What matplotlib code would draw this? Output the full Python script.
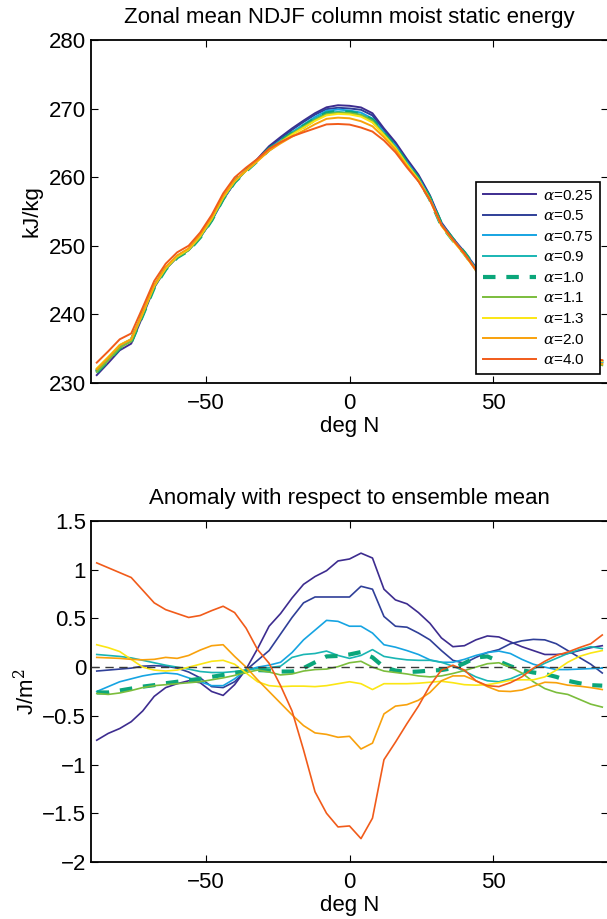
import numpy as np
import matplotlib
matplotlib.use('Agg')
import matplotlib.pyplot as plt
from matplotlib.ticker import FuncFormatter

# latitude grid (deg N)
lat = [-88, -84, -80, -76, -72, -68, -64, -60, -56, -52, -48, -44, -40, -36, -32,
       -28, -24, -20, -16, -12, -8, -4, 0, 4, 8, 12, 16, 20, 24, 28,
       32, 36, 40, 44, 48, 52, 56, 60, 64, 68, 72, 76, 80, 84, 88]

# ensemble mean column MSE (kJ/kg)
mse_mean = [231.9, 233.6, 235.4, 236.3, 240.2, 244.2, 246.8, 248.5, 249.5, 251.4, 253.9, 257.0, 259.4, 261.0, 262.5,
            264.1, 265.3, 266.4, 267.4, 268.4, 269.2, 269.4, 269.3, 269.0, 268.2, 266.3, 264.4, 262.0, 259.8, 256.9,
            253.1, 250.9, 248.9, 246.6, 244.5, 242.8, 241.0, 239.5, 238.0, 236.8, 235.7, 234.8, 234.0, 233.4, 233.0]

# anomaly with respect to ensemble mean, one list per alpha
anom_025 = [-0.75, -0.68, -0.63, -0.56, -0.45, -0.30, -0.21, -0.17, -0.14, -0.16, -0.25, -0.29, -0.18, -0.02, 0.19,
            0.42, 0.55, 0.71, 0.85, 0.93, 0.99, 1.09, 1.11, 1.17, 1.12, 0.80, 0.69, 0.65, 0.56, 0.45,
            0.30, 0.21, 0.22, 0.28, 0.32, 0.31, 0.26, 0.21, 0.17, 0.13, 0.13, 0.14, 0.17, 0.20, 0.22]
anom_05 = [-0.04, -0.03, -0.02, -0.01, 0.01, 0.015, 0.01, -0.01, -0.05, -0.11, -0.20, -0.21, -0.15, -0.03, 0.07,
           0.17, 0.34, 0.51, 0.66, 0.72, 0.72, 0.72, 0.72, 0.83, 0.80, 0.52, 0.42, 0.41, 0.35, 0.28,
           0.17, 0.07, 0.04, 0.10, 0.15, 0.18, 0.24, 0.27, 0.285, 0.28, 0.24, 0.17, 0.10, 0.03, -0.06]
anom_075 = [-0.25, -0.20, -0.15, -0.12, -0.09, -0.07, -0.06, -0.07, -0.11, -0.15, -0.19, -0.19, -0.12, -0.03, 0.00,
            0.02, 0.05, 0.15, 0.28, 0.38, 0.48, 0.47, 0.42, 0.42, 0.35, 0.23, 0.205, 0.17, 0.13, 0.075,
            0.05, 0.05, 0.08, 0.12, 0.15, 0.165, 0.14, 0.08, 0.03, 0.00, -0.025, -0.025, -0.02, -0.015, -0.01]
anom_09 = [0.13, 0.12, 0.11, 0.095, 0.07, 0.045, 0.02, 0.00, -0.02, -0.045, -0.055, -0.055, -0.045, -0.03, -0.015,
           -0.005, 0.01, 0.10, 0.13, 0.14, 0.165, 0.12, 0.09, 0.12, 0.18, 0.11, 0.09, 0.075, 0.07, 0.07,
           0.05, 0.01, -0.04, -0.10, -0.14, -0.15, -0.12, -0.07, -0.02, 0.04, 0.09, 0.14, 0.18, 0.21, 0.19]
anom_10 = [-0.26, -0.26, -0.24, -0.22, -0.20, -0.185, -0.165, -0.15, -0.135, -0.12, -0.10, -0.08, -0.06, -0.045, -0.03,
           -0.035, -0.045, -0.045, -0.01, 0.05, 0.11, 0.115, 0.13, 0.155, 0.10, 0.00, -0.035, -0.05, -0.045, -0.035,
           -0.03, -0.01, 0.04, 0.10, 0.11, 0.06, 0.01, -0.03, -0.055, -0.07, -0.10, -0.14, -0.165, -0.185, -0.19]
anom_11 = [-0.27, -0.28, -0.265, -0.24, -0.21, -0.19, -0.18, -0.17, -0.16, -0.15, -0.13, -0.11, -0.085, -0.055, -0.03,
           -0.05, -0.08, -0.07, -0.04, -0.025, -0.02, 0.005, 0.045, 0.06, 0.00, -0.04, -0.055, -0.07, -0.09, -0.10,
           -0.09, -0.065, -0.035, 0.00, 0.035, 0.045, 0.00, -0.06, -0.15, -0.22, -0.26, -0.28, -0.33, -0.38, -0.41]
anom_13 = [0.23, 0.20, 0.16, 0.08, 0.00, -0.03, -0.04, -0.03, 0.00, 0.03, 0.06, 0.07, 0.03, -0.06, -0.15,
           -0.19, -0.20, -0.195, -0.195, -0.20, -0.19, -0.17, -0.15, -0.17, -0.23, -0.17, -0.17, -0.17, -0.165, -0.155,
           -0.145, -0.16, -0.18, -0.185, -0.18, -0.16, -0.135, -0.13, -0.13, -0.10, -0.03, 0.05, 0.11, 0.145, 0.17]
anom_20 = [0.10, 0.095, 0.09, 0.08, 0.075, 0.08, 0.10, 0.09, 0.12, 0.175, 0.22, 0.23, 0.11, 0.00, -0.13,
           -0.25, -0.37, -0.49, -0.60, -0.675, -0.69, -0.72, -0.71, -0.84, -0.78, -0.48, -0.40, -0.385, -0.34, -0.26,
           -0.14, -0.09, -0.09, -0.14, -0.20, -0.245, -0.25, -0.235, -0.195, -0.155, -0.16, -0.185, -0.195, -0.21, -0.23]
anom_40 = [1.07, 1.02, 0.97, 0.92, 0.79, 0.66, 0.59, 0.55, 0.51, 0.53, 0.58, 0.625, 0.56, 0.40, 0.18,
           0.04, -0.19, -0.45, -0.85, -1.28, -1.50, -1.64, -1.63, -1.76, -1.55, -0.95, -0.77, -0.58, -0.40, -0.19,
           -0.03, 0.02, -0.03, -0.14, -0.19, -0.20, -0.16, -0.10, -0.01, 0.06, 0.12, 0.155, 0.20, 0.24, 0.33]

labels = [r'$\alpha$=0.25', r'$\alpha$=0.5', r'$\alpha$=0.75', r'$\alpha$=0.9', r'$\alpha$=1.0',
          r'$\alpha$=1.1', r'$\alpha$=1.3', r'$\alpha$=2.0', r'$\alpha$=4.0']
anoms = [anom_025, anom_05, anom_075, anom_09, anom_10, anom_11, anom_13, anom_20, anom_40]
colors = ['#3d2c8f', '#2f3f98', '#16a4e2', '#19b5b3', '#0ba67a', '#7bbd3c', '#fbe614', '#f8a10c', '#f15b1a']

plt.rcParams['font.family'] = ['Liberation Sans', 'DejaVu Sans']
plt.rcParams['mathtext.fontset'] = 'dejavuserif'
plt.rcParams['axes.linewidth'] = 1.3
plt.rcParams['xtick.direction'] = 'in'
plt.rcParams['ytick.direction'] = 'in'
plt.rcParams['xtick.top'] = True
plt.rcParams['ytick.right'] = True


def fmt(v, pos):
    return ('%g' % v).replace('-', '\u2212')


fig = plt.figure(figsize=(6.07, 9.19), dpi=100)
ax1 = fig.add_axes([91 / 607, 1 - 383 / 919, 517 / 607, 343 / 919])
ax2 = fig.add_axes([91 / 607, 1 - 862 / 919, 517 / 607, 341 / 919])

# top panel: each member = ensemble mean + its anomaly
mean_arr = np.array(mse_mean)
for a, c, lab in zip(anoms, colors, labels):
    if lab.endswith('1.0'):
        ax1.plot(lat, mean_arr + np.array(a), color=c, lw=3.0, ls=(0, (3, 2.6)), label=lab)
    else:
        ax1.plot(lat, mean_arr + np.array(a), color=c, lw=1.4, label=lab)

ax1.set_xlim(-90, 90)
ax1.set_ylim(230, 280)
ax1.set_xticks([-50, 0, 50])
ax1.set_yticks([230, 240, 250, 260, 270, 280])
ax1.xaxis.set_major_formatter(FuncFormatter(fmt))
ax1.tick_params(labelsize=16, length=5, width=0.8)
ax1.tick_params(axis='x', pad=7)
ax1.set_title('Zonal mean NDJF column moist static energy', fontsize=16, pad=12)
ax1.set_xlabel('deg N', fontsize=16, labelpad=2)
ax1.set_ylabel('kJ/kg', fontsize=16, labelpad=5)
leg = ax1.legend(loc='lower right', bbox_to_anchor=(0.985, 0.026), fontsize=11, frameon=True,
                 fancybox=False, framealpha=1, edgecolor='black', handlelength=3.5,
                 handletextpad=0.45, labelspacing=0.43, borderpad=0.45, borderaxespad=0)
leg.get_frame().set_linewidth(1.2)

# bottom panel: anomalies
for a, c, lab in zip(anoms, colors, labels):
    if lab.endswith('1.0'):
        ax2.plot(lat, a, color=c, lw=3.0, ls=(0, (3, 2.6)))
    else:
        ax2.plot(lat, a, color=c, lw=1.2)
ax2.axhline(0, color='#3a3a3a', lw=1.0, ls=(0, (6, 4)), zorder=5)

ax2.set_xlim(-90, 90)
ax2.set_ylim(-2, 1.5)
ax2.set_xticks([-50, 0, 50])
ax2.set_yticks([-2, -1.5, -1, -0.5, 0, 0.5, 1, 1.5])
ax2.xaxis.set_major_formatter(FuncFormatter(fmt))
ax2.yaxis.set_major_formatter(FuncFormatter(fmt))
ax2.tick_params(labelsize=16, length=5, width=0.8)
ax2.tick_params(axis='x', pad=7)
ax2.set_title('Anomaly with respect to ensemble mean', fontsize=16, pad=12)
ax2.set_xlabel('deg N', fontsize=16, labelpad=2)
ax2.set_ylabel('J/m$^2$', fontsize=16, labelpad=2)

fig.savefig('out.png', dpi=100)
